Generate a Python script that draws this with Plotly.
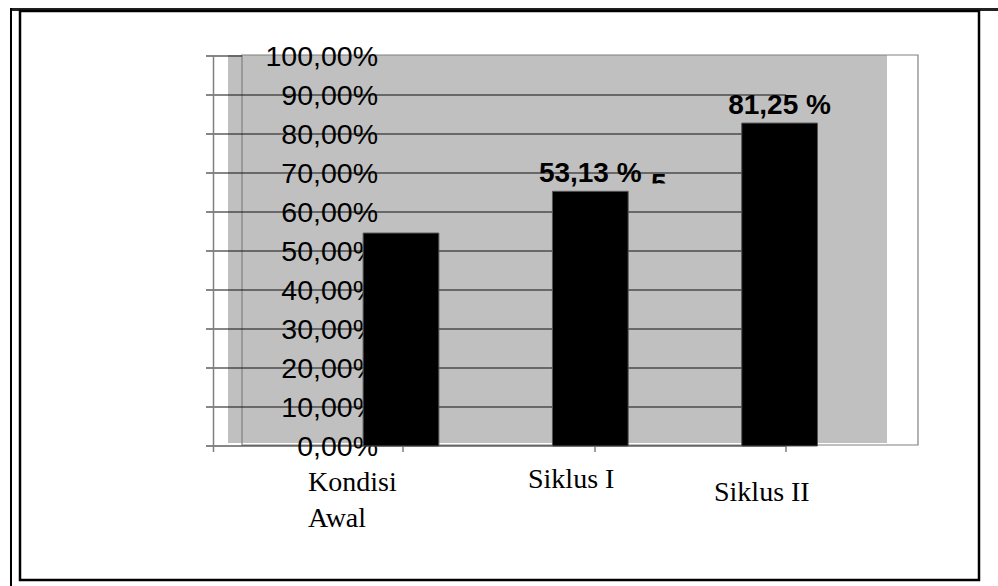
import plotly.graph_objects as go

# ---------------- data ----------------
categories = ["Kondisi<br>Awal", "Siklus I", "Siklus II"]
bar_values = [54.6, 65.3, 82.8]
bar_labels = ["", "53,13 %", "81,25 %"]
tick_values = [0, 10, 20, 30, 40, 50, 60, 70, 80, 90, 100]
tick_labels = ["0,00%", "10,00%", "20,00%", "30,00%", "40,00%", "50,00%",
               "60,00%", "70,00%", "80,00%", "90,00%", "100,00%"]
stray_label = "5"

# ---------------- geometry helpers ----------------
W, H = 998, 586


def fx(p):
    return p / W


def fy(p):
    return 1 - p / H


X0PX, XSTEP = 401.0, 189.3   # pixel of first category centre, pixels per category
Y0PX, YSTEP = 446.0, 3.9     # pixel of 0 %, pixels per percent
x_range = [(0 - X0PX) / XSTEP, (W - X0PX) / XSTEP]
y_range = [(Y0PX - H) / YSTEP, Y0PX / YSTEP]

x_idx = list(range(len(categories)))

fig = go.Figure()
fig.add_trace(go.Bar(
    x=x_idx, y=bar_values, width=0.4,
    marker=dict(color="#000000", line=dict(color="#555555", width=1)),
    text=bar_labels, textposition="outside", cliponaxis=False,
    constraintext="none",
    textfont=dict(family="Liberation Sans", size=28, color="#000000", weight="bold"),
    hoverinfo="skip", showlegend=False,
))

shapes = []
# gray plot fill
shapes.append(dict(type="rect", xref="paper", yref="paper", layer="below",
                   x0=fx(228), x1=fx(887), y0=fy(443), y1=fy(55),
                   fillcolor="#c0c0c0", line=dict(width=0)))
# gray frame
shapes.append(dict(type="rect", xref="paper", yref="paper", layer="below",
                   x0=fx(242), x1=fx(918), y0=fy(445), y1=fy(55),
                   fillcolor="rgba(0,0,0,0)", line=dict(color="#808080", width=1.2)))
# gridlines
for v in tick_values:
    x_end = 242 if v == 100 else 786
    shapes.append(dict(type="line", xref="paper", yref="y", layer="below",
                       x0=fx(206), x1=fx(x_end), y0=v, y1=v,
                       line=dict(color="#111111", width=1.2)))
# vertical axis line
shapes.append(dict(type="line", xref="paper", yref="paper", layer="below",
                   x0=fx(213.5), x1=fx(213.5), y0=fy(452), y1=fy(55),
                   line=dict(color="#808080", width=1.5)))
# x ticks
for tx in [403, 595, 786]:
    shapes.append(dict(type="line", xref="paper", yref="paper", layer="below",
                       x0=fx(tx), x1=fx(tx), y0=fy(452), y1=fy(446),
                       line=dict(color="#808080", width=1.5)))
# outer borders
shapes.append(dict(type="line", xref="paper", yref="paper",
                   x0=fx(10), x1=fx(998), y0=fy(9.5), y1=fy(9.5),
                   line=dict(color="#222222", width=3)))
shapes.append(dict(type="line", xref="paper", yref="paper",
                   x0=fx(11), x1=fx(11), y0=fy(586), y1=fy(8),
                   line=dict(color="#000000", width=2)))
shapes.append(dict(type="rect", xref="paper", yref="paper",
                   x0=fx(20), x1=fx(979), y0=fy(580), y1=fy(11),
                   fillcolor="rgba(0,0,0,0)", line=dict(color="#000000", width=2.5)))

# category labels
cat_shift = [-95, -64, -68]
cat_ypx = [499, 479, 491]
annotations = []
for i, name in enumerate(categories):
    annotations.append(dict(
        x=x_idx[i], xref="x", xanchor="left", xshift=cat_shift[i],
        y=fy(cat_ypx[i]), yref="paper", yanchor="middle",
        text=name, showarrow=False, align="left",
        font=dict(family="Liberation Serif", size=28, color="#000000"),
    ))

# clipped stray label fragment next to "53,13 %"
annotations.append(dict(
    x=fx(659), xref="paper", xanchor="center",
    y=fy(183), yref="paper", yanchor="middle",
    text=stray_label, showarrow=False,
    font=dict(family="Liberation Sans", size=28, color="#000000", weight="bold"),
))
annotations.append(dict(
    x=fx(659), xref="paper", xanchor="center",
    y=fy(195), yref="paper", yanchor="middle",
    text=" ", showarrow=False, width=26, height=22, bgcolor="#c0c0c0",
    borderpad=0, font=dict(size=10),
))

fig.update_layout(
    width=W, height=H, autosize=False,
    margin=dict(l=0, r=0, t=0, b=0, pad=0),
    paper_bgcolor="#ffffff", plot_bgcolor="rgba(0,0,0,0)",
    xaxis=dict(range=x_range, domain=[0, 1], visible=False, fixedrange=True),
    yaxis=dict(range=y_range, domain=[0, 1], anchor="free", position=fx(378),
               side="left", tickmode="array", tickvals=tick_values, ticktext=tick_labels,
               ticks="", showline=False, showgrid=False, zeroline=False,
               tickfont=dict(family="Liberation Sans", size=28.5, color="#000000"),
               layer="below traces", fixedrange=True),
    shapes=shapes, annotations=annotations,
    showlegend=False,
)

fig.write_html("out.html")
